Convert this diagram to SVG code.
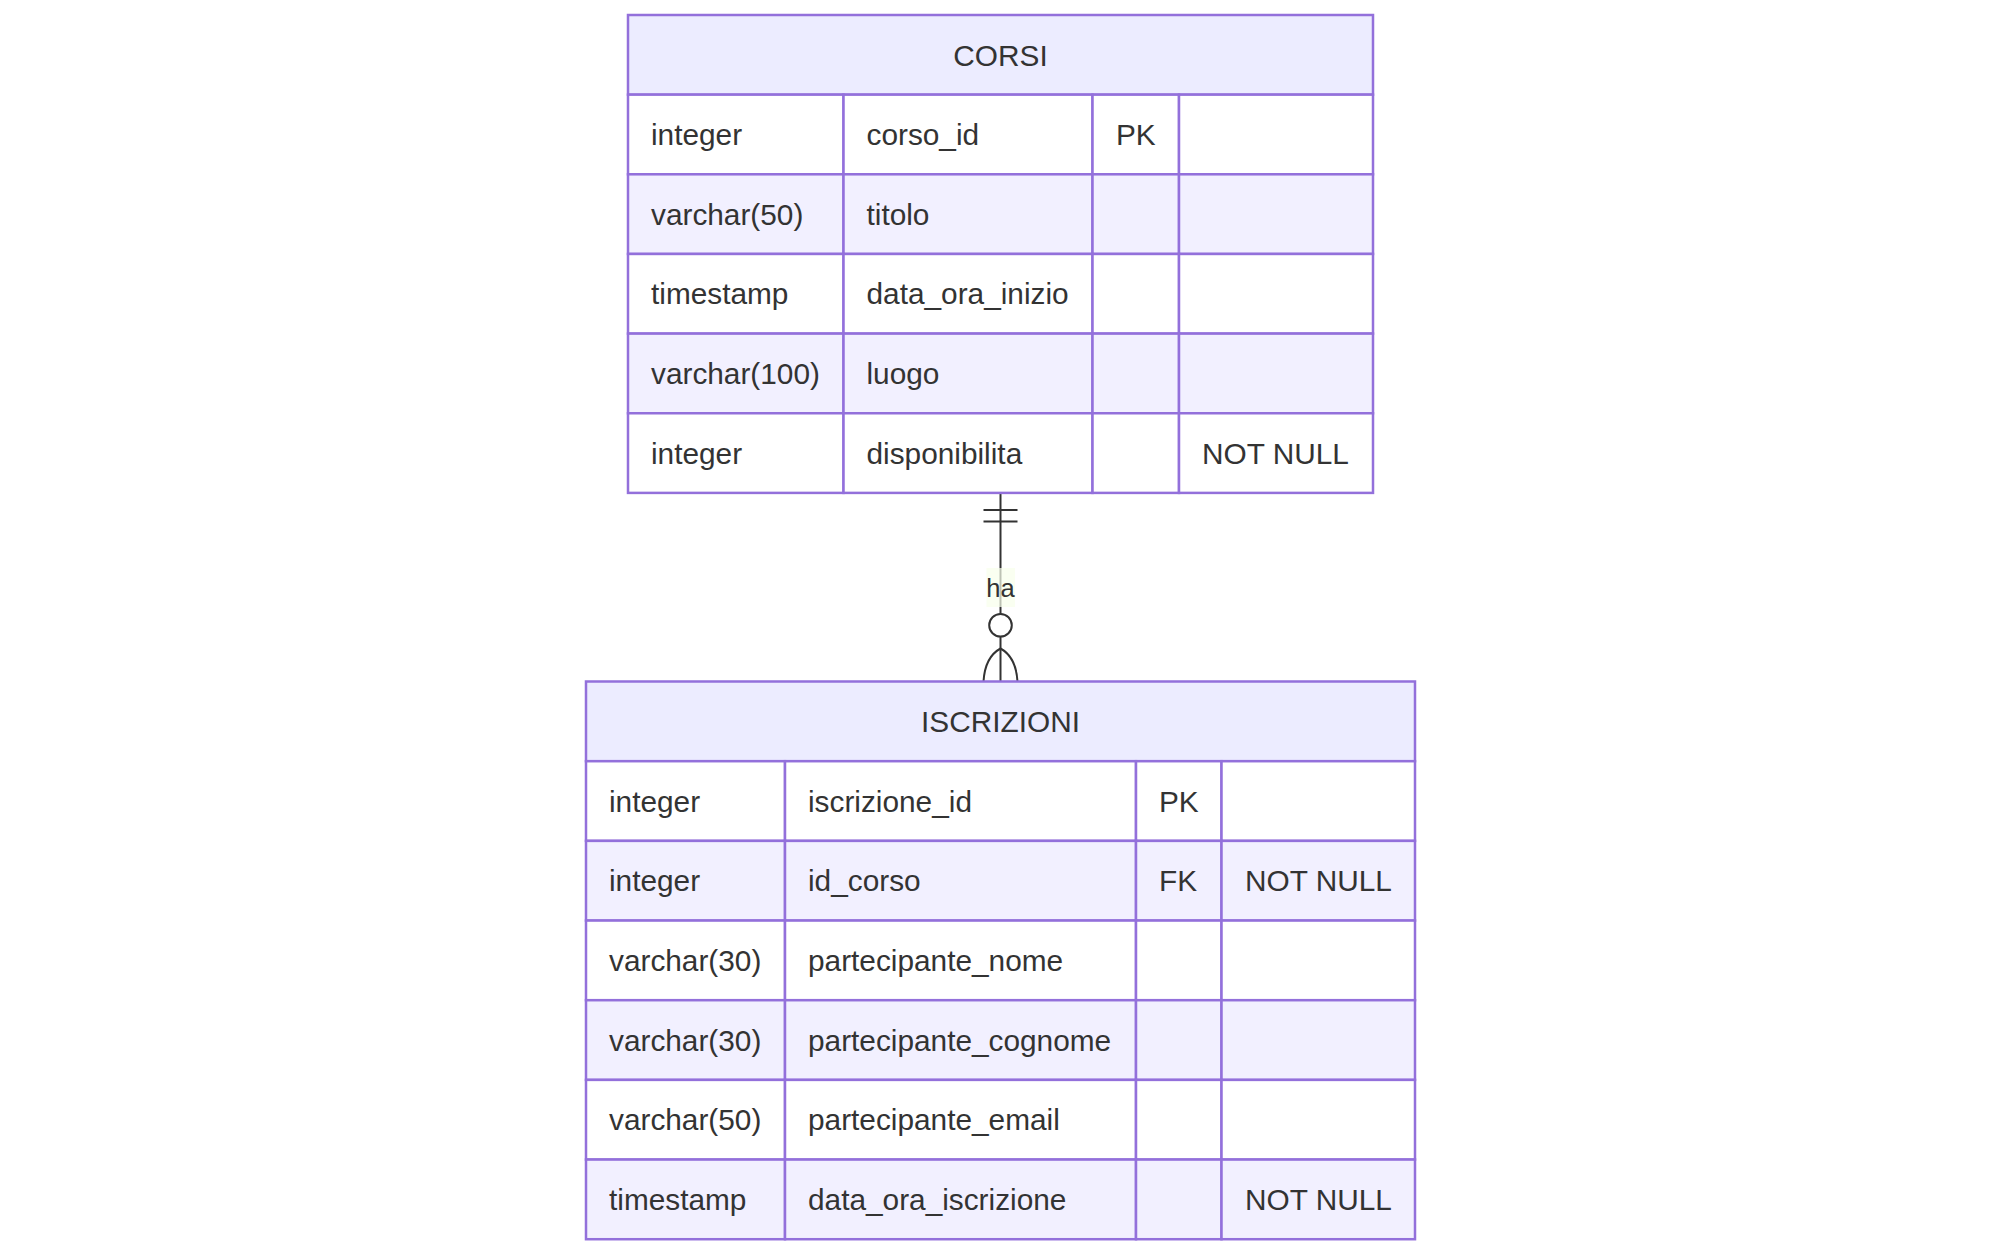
<svg xmlns="http://www.w3.org/2000/svg" width="2001" height="1255" viewBox="0 0 2001 1255">
<style>
.hdr{fill:#ECECFF;stroke:#9370DB;stroke-width:2.5}
.odd{fill:#FFFFFF;stroke:#9370DB;stroke-width:2.5}
.even{fill:#F2F0FF;stroke:#9370DB;stroke-width:2.5}
text{font-family:"Liberation Sans",Arial,sans-serif;font-size:29.8px;fill:#333333;dominant-baseline:central}
.c{text-anchor:middle}
.rel{stroke:#333333;stroke-width:2;fill:none}
.lbl{fill:#F8FFEB;opacity:0.7}
</style>
<rect width="2001" height="1255" fill="#FFFFFF"/>
<g id="connectors">
<path class="rel" d="M1000.5,493 V681.5"/>
<path class="rel" d="M983.5,510 H1017.5 M983.5,521.5 H1017.5"/>
<circle class="rel" cx="1000.5" cy="625.3" r="11.3" fill="#FFFFFF" style="fill:#FFFFFF"/>
<path class="rel" d="M983.5,681.5 Q985,657 1000.5,648.5 Q1016,657 1017.5,681.5"/>
<rect class="lbl" x="986.5" y="568" width="28.5" height="39"/>
<text class="c" x="1000.5" y="588" style="font-size:25.5px">ha</text>
</g>
<g id="corsi">
<rect class="hdr" x="628" y="15" width="745" height="79.65"/>
<text class="c" x="1000.5" y="55">CORSI</text>
<rect class="odd" x="628" y="94.65" width="215.5" height="79.65"/>
<rect class="odd" x="843.5" y="94.65" width="249" height="79.65"/>
<rect class="odd" x="1092.5" y="94.65" width="86.5" height="79.65"/>
<rect class="odd" x="1179" y="94.65" width="194" height="79.65"/>
<rect class="even" x="628" y="174.3" width="215.5" height="79.65"/>
<rect class="even" x="843.5" y="174.3" width="249" height="79.65"/>
<rect class="even" x="1092.5" y="174.3" width="86.5" height="79.65"/>
<rect class="even" x="1179" y="174.3" width="194" height="79.65"/>
<rect class="odd" x="628" y="253.95" width="215.5" height="79.65"/>
<rect class="odd" x="843.5" y="253.95" width="249" height="79.65"/>
<rect class="odd" x="1092.5" y="253.95" width="86.5" height="79.65"/>
<rect class="odd" x="1179" y="253.95" width="194" height="79.65"/>
<rect class="even" x="628" y="333.6" width="215.5" height="79.65"/>
<rect class="even" x="843.5" y="333.6" width="249" height="79.65"/>
<rect class="even" x="1092.5" y="333.6" width="86.5" height="79.65"/>
<rect class="even" x="1179" y="333.6" width="194" height="79.65"/>
<rect class="odd" x="628" y="413.25" width="215.5" height="79.65"/>
<rect class="odd" x="843.5" y="413.25" width="249" height="79.65"/>
<rect class="odd" x="1092.5" y="413.25" width="86.5" height="79.65"/>
<rect class="odd" x="1179" y="413.25" width="194" height="79.65"/>
<text x="651" y="134.5">integer</text>
<text x="866.5" y="134.5">corso_id</text>
<text x="1116" y="134.5">PK</text>
<text x="651" y="214.1">varchar(50)</text>
<text x="866.5" y="214.1">titolo</text>
<text x="651" y="293.8">timestamp</text>
<text x="866.5" y="293.8">data_ora_inizio</text>
<text x="651" y="373.4">varchar(100)</text>
<text x="866.5" y="373.4">luogo</text>
<text x="651" y="453.1">integer</text>
<text x="866.5" y="453.1">disponibilita</text>
<text x="1202" y="453.1">NOT NULL</text>
</g>
<g id="iscrizioni">
<rect class="hdr" x="586" y="681.5" width="829" height="79.7"/>
<text class="c" x="1000.5" y="721.5">ISCRIZIONI</text>
<rect class="odd" x="586" y="761.2" width="199" height="79.67"/>
<rect class="odd" x="785" y="761.2" width="351" height="79.67"/>
<rect class="odd" x="1136" y="761.2" width="85.5" height="79.67"/>
<rect class="odd" x="1221.5" y="761.2" width="193.5" height="79.67"/>
<rect class="even" x="586" y="840.87" width="199" height="79.67"/>
<rect class="even" x="785" y="840.87" width="351" height="79.67"/>
<rect class="even" x="1136" y="840.87" width="85.5" height="79.67"/>
<rect class="even" x="1221.5" y="840.87" width="193.5" height="79.67"/>
<rect class="odd" x="586" y="920.54" width="199" height="79.67"/>
<rect class="odd" x="785" y="920.54" width="351" height="79.67"/>
<rect class="odd" x="1136" y="920.54" width="85.5" height="79.67"/>
<rect class="odd" x="1221.5" y="920.54" width="193.5" height="79.67"/>
<rect class="even" x="586" y="1000.21" width="199" height="79.67"/>
<rect class="even" x="785" y="1000.21" width="351" height="79.67"/>
<rect class="even" x="1136" y="1000.21" width="85.5" height="79.67"/>
<rect class="even" x="1221.5" y="1000.21" width="193.5" height="79.67"/>
<rect class="odd" x="586" y="1079.88" width="199" height="79.67"/>
<rect class="odd" x="785" y="1079.88" width="351" height="79.67"/>
<rect class="odd" x="1136" y="1079.88" width="85.5" height="79.67"/>
<rect class="odd" x="1221.5" y="1079.88" width="193.5" height="79.67"/>
<rect class="even" x="586" y="1159.55" width="199" height="79.67"/>
<rect class="even" x="785" y="1159.55" width="351" height="79.67"/>
<rect class="even" x="1136" y="1159.55" width="85.5" height="79.67"/>
<rect class="even" x="1221.5" y="1159.55" width="193.5" height="79.67"/>
<text x="609" y="801">integer</text>
<text x="808" y="801">iscrizione_id</text>
<text x="1159" y="801">PK</text>
<text x="609" y="880.7">integer</text>
<text x="808" y="880.7">id_corso</text>
<text x="1159" y="880.7">FK</text>
<text x="1245" y="880.7">NOT NULL</text>
<text x="609" y="960.4">varchar(30)</text>
<text x="808" y="960.4">partecipante_nome</text>
<text x="609" y="1040">varchar(30)</text>
<text x="808" y="1040">partecipante_cognome</text>
<text x="609" y="1119.7">varchar(50)</text>
<text x="808" y="1119.7">partecipante_email</text>
<text x="609" y="1199.4">timestamp</text>
<text x="808" y="1199.4">data_ora_iscrizione</text>
<text x="1245" y="1199.4">NOT NULL</text>
</g>
</svg>
